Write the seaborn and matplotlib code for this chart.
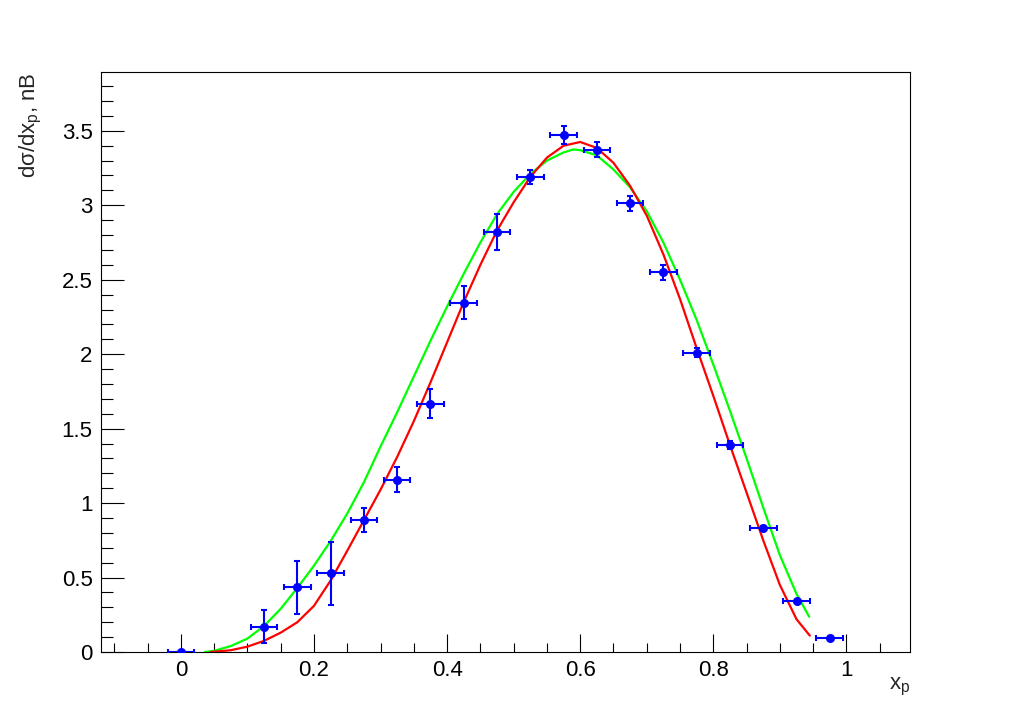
import numpy as np
import pandas as pd
import matplotlib
matplotlib.use('Agg')
import matplotlib.pyplot as plt
from matplotlib.ticker import MultipleLocator, FuncFormatter
import seaborn as sns

# measured points (bin centres, values, errors)
x_pts = [0.0, 0.125, 0.175, 0.225, 0.275, 0.325, 0.375, 0.425, 0.475, 0.525,
         0.575, 0.625, 0.675, 0.725, 0.775, 0.825, 0.875, 0.925, 0.975]
y_pts = [0.0, 0.17, 0.434, 0.528, 0.885, 1.158, 1.668, 2.347, 2.82, 3.19,
         3.47, 3.374, 3.013, 2.549, 2.01, 1.39, 0.834, 0.342, 0.092]
y_err = [0.0, 0.11, 0.18, 0.21, 0.08, 0.086, 0.095, 0.11, 0.12, 0.045,
         0.06, 0.05, 0.05, 0.05, 0.03, 0.028, 0.012, 0.008, 0.006]
x_err = [0.02] * len(x_pts)

# fit curves
x_red = [0.045, 0.075, 0.10, 0.125, 0.15, 0.175, 0.20, 0.225, 0.25, 0.275,
         0.30, 0.325, 0.35, 0.375, 0.40, 0.425, 0.45, 0.475, 0.50, 0.525,
         0.55, 0.575, 0.60, 0.625, 0.65, 0.675, 0.70, 0.725, 0.75, 0.775,
         0.80, 0.825, 0.85, 0.875, 0.90, 0.925, 0.945]
y_red = [0.0, 0.012, 0.036, 0.075, 0.13, 0.20, 0.31, 0.48, 0.68, 0.885,
         1.09, 1.31, 1.55, 1.81, 2.08, 2.35, 2.60, 2.83, 3.02, 3.19,
         3.32, 3.40, 3.425, 3.385, 3.285, 3.13, 2.93, 2.67, 2.37, 2.04,
         1.72, 1.39, 1.07, 0.75, 0.45, 0.22, 0.11]

x_green = [0.036, 0.05, 0.075, 0.10, 0.125, 0.15, 0.175, 0.20, 0.225, 0.25,
           0.275, 0.30, 0.325, 0.35, 0.375, 0.40, 0.425, 0.45, 0.475, 0.50,
           0.525, 0.55, 0.575, 0.59, 0.60, 0.625, 0.65, 0.675, 0.70, 0.725,
           0.75, 0.775, 0.80, 0.825, 0.85, 0.875, 0.90, 0.925, 0.944]
y_green = [0.0, 0.008, 0.04, 0.09, 0.175, 0.29, 0.43, 0.58, 0.745, 0.93,
           1.14, 1.38, 1.61, 1.85, 2.09, 2.32, 2.54, 2.75, 2.94, 3.09,
           3.21, 3.30, 3.355, 3.375, 3.37, 3.335, 3.24, 3.12, 2.96, 2.75,
           2.50, 2.23, 1.93, 1.62, 1.30, 0.97, 0.65, 0.39, 0.237]

sns.set_style('white')
plt.rcParams['font.family'] = ['Liberation Sans', 'DejaVu Sans']
plt.rcParams['mathtext.fontset'] = 'custom'
plt.rcParams['mathtext.rm'] = 'Liberation Sans'
plt.rcParams['mathtext.it'] = 'Liberation Sans'

fig = plt.figure(figsize=(10.11, 7.24), dpi=100)
ax = fig.add_axes([101 / 1011, 1 - 652 / 724, 809 / 1011, 580 / 724])

df_red = pd.DataFrame({'x': x_red, 'y': y_red})
df_green = pd.DataFrame({'x': x_green, 'y': y_green})
sns.lineplot(data=df_green, x='x', y='y', color='#00ff00', lw=1.6, ax=ax)
sns.lineplot(data=df_red, x='x', y='y', color='#ff0000', lw=1.6, ax=ax)

ax.errorbar(x_pts, y_pts, xerr=x_err, yerr=y_err, fmt='o', color='#0000ff',
            ms=5.5, elinewidth=1.5, capsize=2.5, capthick=1.5, zorder=3)

ax.set_xlim(-0.12, 1.0955)
ax.set_ylim(0, 3.895)

ax.xaxis.set_major_locator(MultipleLocator(0.2))
ax.xaxis.set_minor_locator(MultipleLocator(0.05))
ax.yaxis.set_major_locator(MultipleLocator(0.5))
ax.yaxis.set_minor_locator(MultipleLocator(0.1))
fmt = FuncFormatter(lambda v, p: '%g' % round(v, 3))
ax.xaxis.set_major_formatter(fmt)
ax.yaxis.set_major_formatter(fmt)

ax.tick_params(axis='both', which='both', direction='in', width=0.8,
               labelsize=16, colors='black', bottom=True, left=True,
               top=False, right=False)
ax.tick_params(axis='x', which='major', length=13, pad=6)
ax.tick_params(axis='x', which='minor', length=6.5)
ax.tick_params(axis='y', which='major', length=16.5, pad=6)
ax.tick_params(axis='y', which='minor', length=8.5)
for s in ax.spines.values():
    s.set_linewidth(0.8)
    s.set_color('black')

ax.set_xlabel(r'x$_{\mathrm{p}}$', fontsize=16, loc='right')
ax.xaxis.set_label_coords(1.0, -0.042)
ax.set_ylabel(r'dσ/dx$_{\mathrm{p}}$, nB', fontsize=16, loc='top')
ax.yaxis.set_label_coords(-0.07, 1.0)

fig.savefig('out.png', dpi=100)
plt.close(fig)
